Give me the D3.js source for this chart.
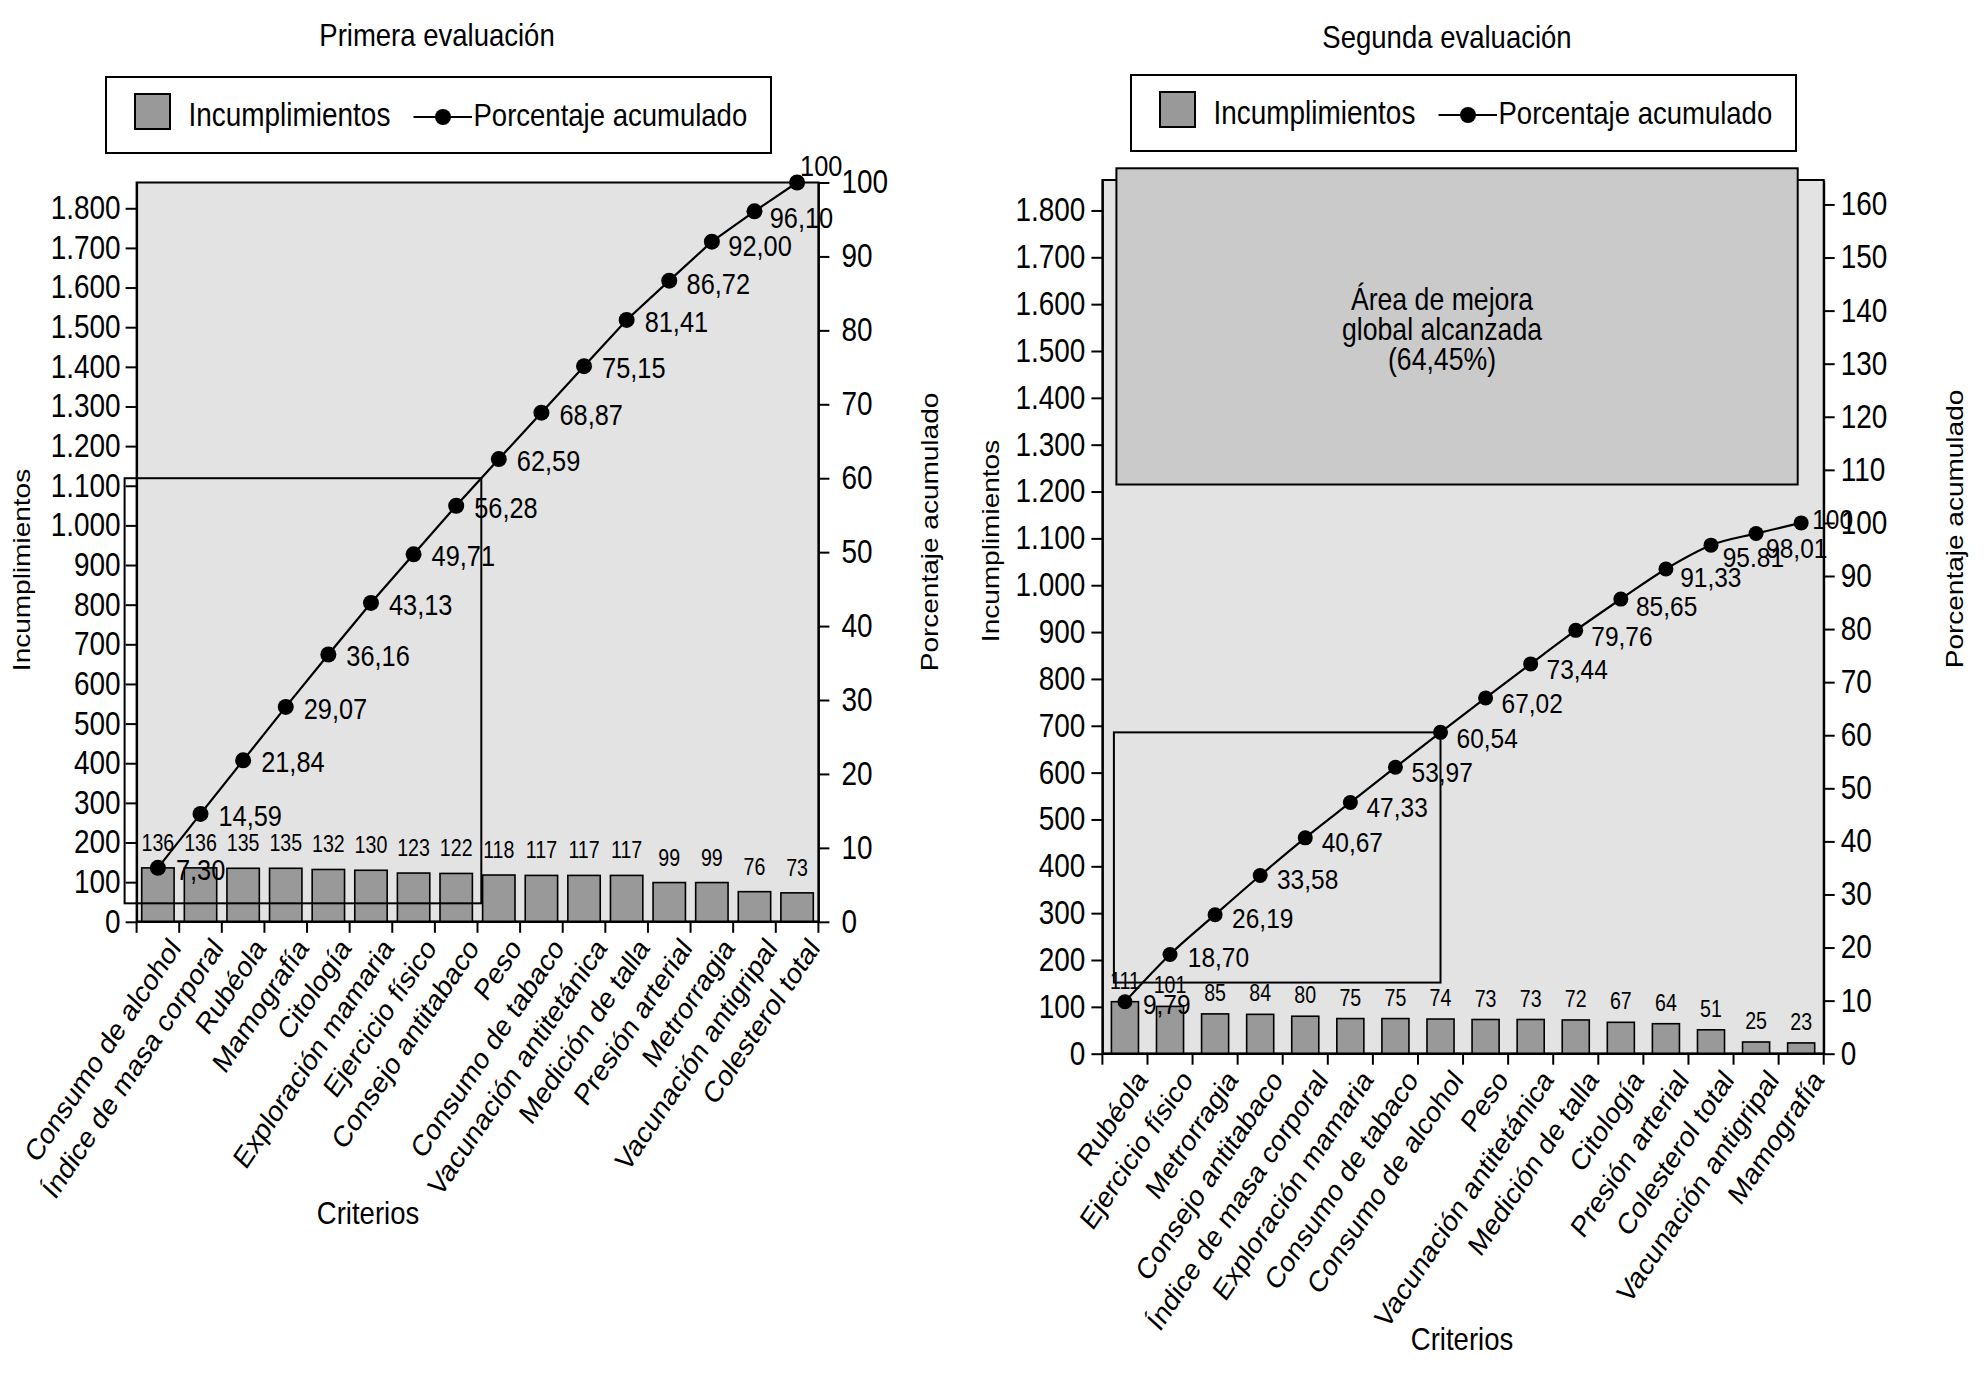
<!DOCTYPE html>
<html>
<head>
<meta charset="utf-8">
<script src="https://cdn.jsdelivr.net/npm/d3@7"></script>
<style>
  body { margin: 0; background: #fff; }
  text { font-family: "Liberation Sans", Arial, Helvetica, sans-serif; fill: #000; }
</style>
</head>
<body>
<svg id="chart"></svg>
<script>
// first evaluation
const criteria1 = ["Consumo de alcohol", "Índice de masa corporal", "Rubéola", "Mamografía", "Citología",
  "Exploración mamaria", "Ejercicio físico", "Consejo antitabaco", "Peso", "Consumo de tabaco",
  "Vacunación antitetánica", "Medición de talla", "Presión arterial", "Metrorragia",
  "Vacunación antigripal", "Colesterol total"]
const values1 = [136, 136, 135, 135, 132, 130, 123, 122, 118, 117, 117, 117, 99, 99, 76, 73]
const cumulative1 = [7.30, 14.59, 21.84, 29.07, 36.16, 43.13, 49.71, 56.28, 62.59, 68.87, 75.15, 81.41, 86.72, 92.00, 96.10, 100]
const cumLabels1 = ["7,30", "14,59", "21,84", "29,07", "36,16", "43,13", "49,71", "56,28", "62,59", "68,87",
  "75,15", "81,41", "86,72", "92,00", "96,10", "100"]

// second evaluation
const criteria2 = ["Rubéola", "Ejercicio físico", "Metrorragia", "Consejo antitabaco", "Índice de masa corporal",
  "Exploración mamaria", "Consumo de tabaco", "Consumo de alcohol", "Peso", "Vacunación antitetánica",
  "Medición de talla", "Citología", "Presión arterial", "Colesterol total", "Vacunación antigripal", "Mamografía"]
const values2 = [111, 101, 85, 84, 80, 75, 75, 74, 73, 73, 72, 67, 64, 51, 25, 23]
const cumulative2 = [9.79, 18.70, 26.19, 33.58, 40.67, 47.33, 53.97, 60.54, 67.02, 73.44, 79.76, 85.65, 91.33, 95.81, 98.01, 100]
const cumLabels2 = ["9,79", "18,70", "26,19", "33,58", "40,67", "47,33", "53,97", "60,54", "67,02", "73,44",
  "79,76", "85,65", "91,33", "95.81", "98,01", "100"]

// axis ticks
const leftTicks = [0, 100, 200, 300, 400, 500, 600, 700, 800, 900, 1000, 1100, 1200, 1300, 1400, 1500, 1600, 1700, 1800]
const rightTicks1 = [0, 10, 20, 30, 40, 50, 60, 70, 80, 90, 100]
const rightTicks2 = [0, 10, 20, 30, 40, 50, 60, 70, 80, 90, 100, 110, 120, 130, 140, 150, 160]

// annotations (data units)
const box1 = {topPct: 60, bottomPct: 2.5}            // 80/20 box, first evaluation
const box2 = {cornerIndex: 7, bottomPct: 13.4}       // box up to "Consumo de alcohol"
const improvement = {top: 1890, bottom: 1215}        // left axis units
const improvementText = ["Área de mejora", "global alcanzada", "(64,45%)"]

const W = 1985, H = 1388
const S = 0.86   // horizontal squeeze of the lettering
const fmt = d3.formatLocale({decimal: ",", thousands: ".", grouping: [3]}).format(",d")

const svg = d3.select("#chart").attr("width", W).attr("height", H)
svg.append("rect").attr("width", W).attr("height", H).attr("fill", "#fff")

// both left axes run up to the total of the first evaluation
const totalFirst = d3.sum(values1)

function txt(parent, x, y, str, size, anchor = "start", rotate = 0) {
    return parent.append("text")
        .attr("transform", `translate(${x},${y}) scale(${S},1)` + (rotate ? ` rotate(${rotate})` : ""))
        .attr("text-anchor", anchor)
        .attr("font-size", size)
        .text(str)
}

function squeeze(g) {
    g.selectAll("text").each(function () {
        const t = d3.select(this)
        t.attr("x", +t.attr("x") / S).attr("transform", `scale(${S},1)`)
    })
}

function paretoChart(cfg) {
    const g = svg.append("g")
    const n = cfg.criteria.length
    const x = d3.scaleBand().domain(cfg.criteria).range([cfg.left, cfg.right])
    const yLeft = d3.scaleLinear().domain([0, totalFirst]).range([cfg.bottom, cfg.top])
    const total = d3.sum(cfg.values)
    const yRight = d3.scaleLinear().domain([0, totalFirst / total * 100]).range([cfg.bottom, cfg.top])
    const cx = d => x(d) + x.bandwidth() / 2

    // title
    txt(g, cfg.titleX, cfg.titleY, cfg.title, 32, "middle")

    // legend
    const lg = g.append("g").attr("transform", `translate(${cfg.legendX},${cfg.legendY})`)
    lg.append("rect").attr("width", 665).attr("height", 76)
        .attr("fill", "#fff").attr("stroke", "#000").attr("stroke-width", 2)
    lg.append("rect").attr("x", 29).attr("y", 17).attr("width", 35).attr("height", 35)
        .attr("fill", "#999").attr("stroke", "#000").attr("stroke-width", 2)
    txt(lg, 82.5, 49, "Incumplimientos", 32.5)
    lg.append("line").attr("x1", 307.5).attr("x2", 366).attr("y1", 40).attr("y2", 40)
        .attr("stroke", "#000").attr("stroke-width", 2)
    lg.append("circle").attr("cx", 337).attr("cy", 40).attr("r", 8)
    txt(lg, 367.5, 49, "Porcentaje acumulado", 32)

    // plot area
    g.append("rect")
        .attr("x", cfg.left).attr("y", cfg.top)
        .attr("width", cfg.right - cfg.left).attr("height", cfg.bottom - cfg.top)
        .attr("fill", "#e3e3e3").attr("stroke", "#000").attr("stroke-width", 2)

    // bars
    const bw = x.bandwidth() * (1 - cfg.barPad)
    g.append("g").selectAll("rect")
        .data(cfg.values)
        .join("rect")
        .attr("x", (d, i) => cx(cfg.criteria[i]) - bw / 2)
        .attr("y", d => yLeft(d))
        .attr("width", bw)
        .attr("height", d => cfg.bottom - yLeft(d))
        .attr("fill", "#999")
        .attr("stroke", "#000")
        .attr("stroke-width", 1.6)

    g.append("g").selectAll("text")
        .data(cfg.values)
        .join("text")
        .attr("transform", (d, i) => `translate(${cx(cfg.criteria[i])},${yLeft(d) - cfg.barGap}) scale(${S * 0.95},1)`)
        .attr("text-anchor", "middle")
        .attr("font-size", 24)
        .text(d => d)

    // axes
    g.append("g")
        .attr("transform", `translate(${cfg.left},0)`)
        .call(d3.axisLeft(yLeft).tickValues(leftTicks).tickFormat(fmt)
            .tickSize(11).tickSizeOuter(0).tickPadding(cfg.leftPad))
        .call(a => a.selectAll("line, path").attr("stroke-width", 2))
        .call(a => a.selectAll("text").attr("font-size", 32.5).attr("font-family", null))
        .call(squeeze)

    g.append("g")
        .attr("transform", `translate(${cfg.right},0)`)
        .call(d3.axisRight(yRight).tickValues(cfg.rightTicks)
            .tickSize(11).tickSizeOuter(0).tickPadding(cfg.rightPad))
        .call(a => a.selectAll("line, path").attr("stroke-width", 2))
        .call(a => a.selectAll("text").attr("font-size", 32.5).attr("font-family", null))
        .call(squeeze)

    // x axis line and ticks at band edges
    g.append("line").attr("x1", cfg.left).attr("x2", cfg.right)
        .attr("y1", cfg.bottom).attr("y2", cfg.bottom)
        .attr("stroke", "#000").attr("stroke-width", 2.4)
    g.append("g").selectAll("line")
        .data(d3.range(n + 1))
        .join("line")
        .attr("x1", i => cfg.left + i * x.step())
        .attr("x2", i => cfg.left + i * x.step())
        .attr("y1", cfg.bottom).attr("y2", cfg.bottom + 11)
        .attr("stroke", "#000").attr("stroke-width", 2)

    g.append("g").selectAll("text")
        .data(cfg.criteria)
        .join("text")
        .attr("transform", d => `translate(${cx(d) + 24},${cfg.bottom + 27}) scale(${S},1) rotate(-52)`)
        .attr("text-anchor", "end")
        .attr("font-size", 30)
        .text(d => d)

    // axis titles
    txt(g, cfg.leftTitleX, cfg.leftTitleY, "Incumplimientos", 28, "middle", -90)
    txt(g, cfg.rightTitleX, cfg.rightTitleY, "Porcentaje acumulado", 28, "middle", -90)
    txt(g, cfg.xTitleX, cfg.xTitleY, "Criterios", 32, "middle")

    // annotations
    cfg.annotate(g, x, cx, yLeft, yRight)

    // cumulative line
    const pts = cfg.cumulative.map((p, i) => [cx(cfg.criteria[i]), yRight(p)])
    g.append("path")
        .attr("d", d3.line().curve(cfg.curve)(pts))
        .attr("fill", "none").attr("stroke", "#000").attr("stroke-width", 2.2)
    g.append("g").selectAll("circle")
        .data(pts)
        .join("circle")
        .attr("cx", d => d[0]).attr("cy", d => d[1]).attr("r", cfg.dotR)

    // point labels, pushed lower where the curve flattens
    pts.forEach((p, i) => {
        let dx, dy
        if (i === pts.length - 1) {
            [dx, dy] = cfg.lastOffset
        } else {
            const a = pts[Math.max(i - 1, 0)], b = pts[i + 1]
            const ang = Math.atan2(a[1] - b[1], b[0] - a[0]) * 180 / Math.PI
            const t = Math.max(0, Math.min(1, (45 - ang) / 30))
            dx = 18 - 8 * t
            dy = 12 + 13 * t
        }
        txt(g, p[0] + dx, p[1] + dy, cfg.cumLabels[i], cfg.pointFont)
    })
}

paretoChart({
    title: "Primera evaluación", titleX: 437, titleY: 46,
    legendX: 106, legendY: 77,
    criteria: criteria1, values: values1, cumulative: cumulative1, cumLabels: cumLabels1,
    left: 136.6, right: 818.4, top: 182.5, bottom: 921.8,
    rightTicks: rightTicks1, leftPad: 5, rightPad: 12,
    barPad: 0.24, barGap: 17, dotR: 8, pointFont: 29.5, curve: d3.curveLinear, lastOffset: [3, -7],
    leftTitleX: 30, leftTitleY: 570, rightTitleX: 938, rightTitleY: 532,
    xTitleX: 368, xTitleY: 1224,
    annotate: (g, x, cx, yLeft, yRight) => {
        // x where the cumulative line reaches the box top
        const i = cumulative1.findIndex(v => v >= box1.topPct)
        const x0 = cx(criteria1[i - 1]), x1 = cx(criteria1[i])
        const f = (box1.topPct - cumulative1[i - 1]) / (cumulative1[i] - cumulative1[i - 1])
        const xr = x0 + f * (x1 - x0)
        g.append("rect")
            .attr("x", 136.6 - 12).attr("y", yRight(box1.topPct))
            .attr("width", xr - 136.6 + 12)
            .attr("height", yRight(box1.bottomPct) - yRight(box1.topPct))
            .attr("fill", "none").attr("stroke", "#000").attr("stroke-width", 2)
    }
})

paretoChart({
    title: "Segunda evaluación", titleX: 1447, titleY: 48,
    legendX: 1131, legendY: 75,
    criteria: criteria2, values: values2, cumulative: cumulative2, cumLabels: cumLabels2,
    left: 1102.4, right: 1823.7, top: 180, bottom: 1053.7,
    rightTicks: rightTicks2, leftPad: 6, rightPad: 6,
    barPad: 0.4, barGap: 13, dotR: 7.5, pointFont: 28.5, curve: d3.curveMonotoneX, lastOffset: [11, 6],
    leftTitleX: 999, leftTitleY: 541, rightTitleX: 1963, rightTitleY: 529,
    xTitleX: 1462, xTitleY: 1350,
    annotate: (g, x, cx, yLeft, yRight) => {
        const xr = cx(criteria2[box2.cornerIndex])
        const yt = yRight(cumulative2[box2.cornerIndex])
        g.append("rect")
            .attr("x", 1102.4 + 11.5).attr("y", yt)
            .attr("width", xr - 1102.4 - 11.5)
            .attr("height", yRight(box2.bottomPct) - yt)
            .attr("fill", "none").attr("stroke", "#000").attr("stroke-width", 2)

        const ix = 1102.4 + 14, iw = 1823.7 - 26 - ix
        g.append("rect")
            .attr("x", ix).attr("y", yLeft(improvement.top))
            .attr("width", iw)
            .attr("height", yLeft(improvement.bottom) - yLeft(improvement.top))
            .attr("fill", "#cacaca").attr("stroke", "#000").attr("stroke-width", 2)
        improvementText.forEach((s, k) => txt(g, 1442, 309.5 + k * 30, s, 31, "middle"))
    }
})
</script>
</body>
</html>
